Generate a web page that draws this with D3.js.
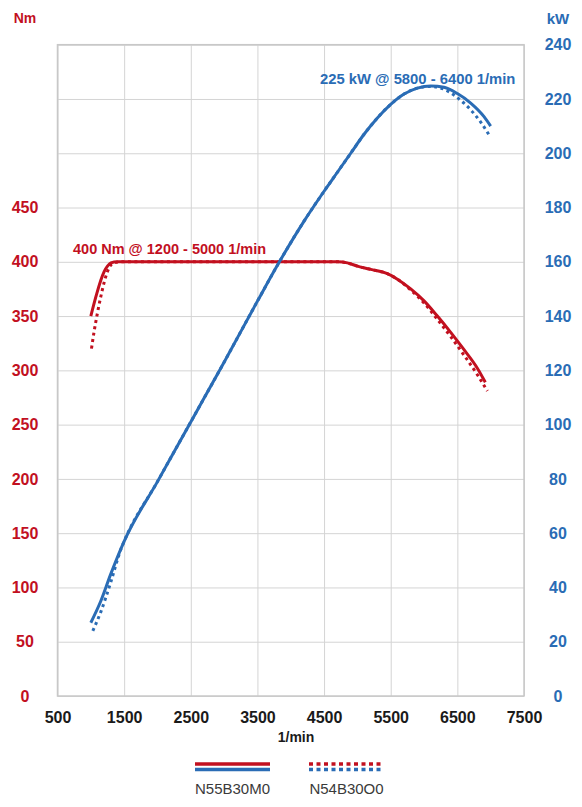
<!doctype html>
<html>
  <head>
    <meta charset="utf-8">
    <script src="https://cdn.jsdelivr.net/npm/d3@7/dist/d3.min.js"></script>
    <style>
      body { margin: 0; background: #fff; }
      svg { display: block; font-family: "Liberation Sans", Arial, sans-serif; }
      .grid line { stroke: #d4d4d4; stroke-width: 1px; }
      .grid .domain { display: none; }
      .lbl text { font-weight: bold; }
    </style>
  </head>
  <body>
    <svg id="chart" width="582" height="807"></svg>
    <script>
      // rpm, Nm
      const torqueN55 = [
        [1000, 350], [1050, 362], [1100, 373], [1150, 383], [1200, 391], [1250, 396],
        [1300, 399], [1400, 400], [2500, 400], [3500, 400], [4700, 400], [4850, 399],
        [5000, 396], [5200, 393], [5450, 389], [5600, 384], [5800, 375], [6000, 364],
        [6200, 350], [6400, 335], [6600, 319], [6800, 302], [6920, 289]
      ];
      const torqueN54 = [
        [1010, 320], [1050, 336], [1100, 353], [1150, 368], [1200, 381], [1250, 391],
        [1300, 397], [1350, 399], [1450, 400], [2500, 400], [3500, 400], [4700, 400],
        [4850, 399], [5000, 396], [5200, 393], [5450, 389], [5600, 384], [5800, 374],
        [6000, 362], [6200, 347], [6400, 331], [6600, 314], [6800, 296], [6950, 281]
      ];
      // rpm, kW
      const powerN55 = [
        [1000, 27], [1150, 35], [1300, 45], [1500, 57], [2000, 79], [2500, 101],
        [3000, 123], [3500, 145.5], [3830, 160], [4200, 175], [4500, 186], [4700, 193],
        [4900, 200], [5100, 207], [5300, 213], [5500, 218], [5700, 221.8], [5900, 224],
        [6100, 224.8], [6300, 224.3], [6500, 222], [6700, 218.5], [6900, 213.5], [7000, 210]
      ];
      const powerN54 = [
        [1030, 24], [1150, 31], [1300, 42], [1450, 54], [1500, 57], [2000, 79],
        [2500, 101], [3000, 123], [3500, 145.5], [3830, 160], [4200, 175], [4500, 186],
        [4700, 193], [4900, 200], [5100, 207], [5300, 213], [5500, 218], [5700, 221.8],
        [5900, 224], [6100, 224.6], [6300, 223.6], [6500, 220.5], [6700, 216], [6850, 211.5],
        [6970, 207]
      ];

      const rpmTicks = [500, 1500, 2500, 3500, 4500, 5500, 6500, 7500];
      const nmTicks = [0, 50, 100, 150, 200, 250, 300, 350, 400, 450];
      const nmGrid = d3.range(0, 601, 50);
      const kwTicks = d3.range(0, 241, 20);

      const engines = ["N55B30M0", "N54B30O0"];
      const torqueLabel = "400 Nm @ 1200 - 5000 1/min";
      const powerLabel = "225 kW @ 5800 - 6400 1/min";

      const red = "#c2101f";
      const blue = "#2a6cb5";

      const svg = d3.select("#chart");
      const plotL = 57.5, plotR = 524, plotT = 44.7, plotB = 696;

      const x = d3.scaleLinear().domain([500, 7500]).range([plotL, plotR]);
      const yNm = d3.scaleLinear().domain([0, 600]).range([plotB, plotT]);
      const yKw = d3.scaleLinear().domain([0, 240]).range([plotB, plotT]);

      // grid
      svg.append("g").attr("class", "grid")
        .attr("transform", "translate(0," + plotB + ")")
        .call(d3.axisBottom(x).tickValues(rpmTicks).tickSize(-(plotB - plotT)).tickFormat(""));
      svg.append("g").attr("class", "grid")
        .attr("transform", "translate(" + plotL + ",0)")
        .call(d3.axisLeft(yNm).tickValues(nmGrid).tickSize(-(plotR - plotL)).tickFormat(""));

      svg.append("rect")
        .attr("x", plotL).attr("y", plotT)
        .attr("width", plotR - plotL).attr("height", plotB - plotT)
        .style("fill", "none").style("stroke", "#c8c8c8").style("stroke-width", "1.5px");

      // tick labels
      const xAxis = svg.append("g").attr("class", "lbl")
        .attr("transform", "translate(0," + plotB + ")")
        .call(d3.axisBottom(x).tickValues(rpmTicks).tickFormat(d3.format("d")).tickSize(0).tickPadding(16));
      xAxis.select(".domain").remove();
      xAxis.selectAll("text").style("font-size", "16px").style("fill", "#1a1a1a");

      const nmAxis = svg.append("g").attr("class", "lbl")
        .attr("transform", "translate(25,0)")
        .call(d3.axisLeft(yNm).tickValues(nmTicks).tickSize(0).tickPadding(0));
      nmAxis.select(".domain").remove();
      nmAxis.selectAll("text").attr("text-anchor", "middle").style("font-size", "16px").style("fill", red);

      const kwAxis = svg.append("g").attr("class", "lbl")
        .attr("transform", "translate(558,0)")
        .call(d3.axisRight(yKw).tickValues(kwTicks).tickSize(0).tickPadding(0));
      kwAxis.select(".domain").remove();
      kwAxis.selectAll("text").attr("text-anchor", "middle").style("font-size", "16px").style("fill", blue);

      svg.append("text").attr("x", 25).attr("y", 23).attr("text-anchor", "middle")
        .style("font-weight", "bold").style("font-size", "14px").style("fill", red).text("Nm");
      svg.append("text").attr("x", 558).attr("y", 24).attr("text-anchor", "middle")
        .style("font-weight", "bold").style("font-size", "15px").style("fill", blue).text("kW");
      svg.append("text").attr("x", 296).attr("y", 742).attr("text-anchor", "middle")
        .style("font-weight", "bold").style("font-size", "14px").style("fill", "#1a1a1a").text("1/min");

      // curves
      const nmLine = d3.line().x(d => x(d[0])).y(d => yNm(d[1])).curve(d3.curveMonotoneX);
      const kwLine = d3.line().x(d => x(d[0])).y(d => yKw(d[1])).curve(d3.curveMonotoneX);

      const curves = [
        { data: torqueN54, line: nmLine, color: red, dash: "3,3.5" },
        { data: powerN54, line: kwLine, color: blue, dash: "3,3.5" },
        { data: torqueN55, line: nmLine, color: red, dash: null },
        { data: powerN55, line: kwLine, color: blue, dash: null }
      ];
      svg.selectAll("path.curve")
        .data(curves)
        .enter()
        .append("path")
        .attr("class", "curve")
        .attr("d", d => d.line(d.data))
        .style("fill", "none")
        .style("stroke", d => d.color)
        .style("stroke-width", "3px")
        .style("stroke-dasharray", d => d.dash);

      svg.append("text").attr("x", 73).attr("y", 254)
        .style("font-weight", "bold").style("font-size", "14.5px").style("fill", red).text(torqueLabel);
      svg.append("text").attr("x", 320).attr("y", 84)
        .style("font-weight", "bold").style("font-size", "14.8px").style("fill", blue).text(powerLabel);

      // legend
      const legend = svg.selectAll("g.legend")
        .data(engines)
        .enter()
        .append("g")
        .attr("class", "legend")
        .attr("transform", (d, i) => "translate(" + (i === 0 ? 195 : 309) + ",0)");
      legend.append("line").attr("x1", 0).attr("x2", 75).attr("y1", 764).attr("y2", 764)
        .style("stroke", red).style("stroke-width", "3.5px")
        .style("stroke-dasharray", (d, i) => i ? "4,3.5" : null);
      legend.append("line").attr("x1", 0).attr("x2", 75).attr("y1", 769.5).attr("y2", 769.5)
        .style("stroke", blue).style("stroke-width", "3.5px")
        .style("stroke-dasharray", (d, i) => i ? "4,3.5" : null);
      legend.append("text").attr("x", 37.5).attr("y", 794).attr("text-anchor", "middle")
        .style("font-size", "15px").style("fill", "#3a3a3a").text(d => d);
    </script>
  </body>
</html>
